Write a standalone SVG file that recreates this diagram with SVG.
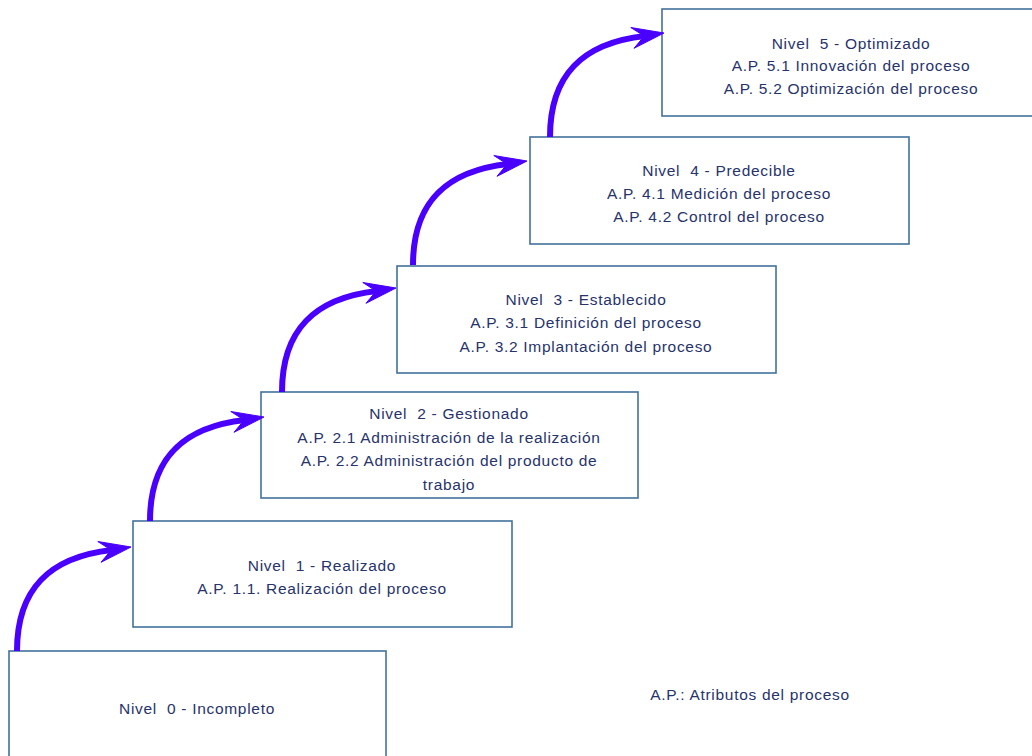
<svg xmlns="http://www.w3.org/2000/svg" width="1032" height="756" viewBox="0 0 1032 756">
<style>
.box{fill:#fff;stroke:#41719c;stroke-width:1.6}
.t{font-family:"Liberation Sans",Arial,sans-serif;font-size:15.5px;letter-spacing:0.7px;fill:#27336b;text-anchor:middle;white-space:pre}
.shaft{fill:none;stroke:#4a00ff;stroke-width:6}
.head{fill:#4a00ff;stroke:#4a00ff;stroke-width:1;stroke-linejoin:round}
</style>
<defs>
<g id="arr">
<path class="shaft" d="M0,0 C0,-62 32,-94 95,-101"/>
<path class="head" d="M114,-104 L80.8,-109.5 L94.2,-100.9 L84,-88.7 Z"/>
</g>
</defs>
<rect width="1032" height="756" fill="#fff"/>
<g id="n0">
<rect class="box" x="9" y="651" width="377" height="120"/>
<text class="t" x="197" y="714">Nivel  0 - Incompleto</text>
</g>
<g id="n1">
<rect class="box" x="133" y="521" width="379" height="106"/>
<text class="t" x="322" y="571">Nivel  1 - Realizado</text>
<text class="t" x="322" y="594">A.P. 1.1. Realización del proceso</text>
</g>
<g id="n2">
<rect class="box" x="261" y="392" width="377" height="106"/>
<text class="t" x="449" y="419">Nivel  2 - Gestionado</text>
<text class="t" x="449" y="443">A.P. 2.1 Administración de la realización</text>
<text class="t" x="449" y="466">A.P. 2.2 Administración del producto de</text>
<text class="t" x="449" y="490">trabajo</text>
</g>
<g id="n3">
<rect class="box" x="397" y="266" width="379" height="107"/>
<text class="t" x="586" y="305">Nivel  3 - Establecido</text>
<text class="t" x="586" y="328">A.P. 3.1 Definición del proceso</text>
<text class="t" x="586" y="352">A.P. 3.2 Implantación del proceso</text>
</g>
<g id="n4">
<rect class="box" x="530" y="137" width="379" height="107"/>
<text class="t" x="719" y="176">Nivel  4 - Predecible</text>
<text class="t" x="719" y="199">A.P. 4.1 Medición del proceso</text>
<text class="t" x="719" y="222">A.P. 4.2 Control del proceso</text>
</g>
<g id="n5">
<rect class="box" x="662" y="9" width="378" height="107"/>
<text class="t" x="851" y="49">Nivel  5 - Optimizado</text>
<text class="t" x="851" y="71">A.P. 5.1 Innovación del proceso</text>
<text class="t" x="851" y="94">A.P. 5.2 Optimización del proceso</text>
</g>
<g id="legend">
<text class="t" x="750" y="700">A.P.: Atributos del proceso</text>
</g>
<g id="connectors">
<use href="#arr" transform="translate(17,651)"/>
<use href="#arr" transform="translate(150,521)"/>
<use href="#arr" transform="translate(282,392)"/>
<use href="#arr" transform="translate(413,265)"/>
<use href="#arr" transform="translate(550,137)"/>
</g>
</svg>
